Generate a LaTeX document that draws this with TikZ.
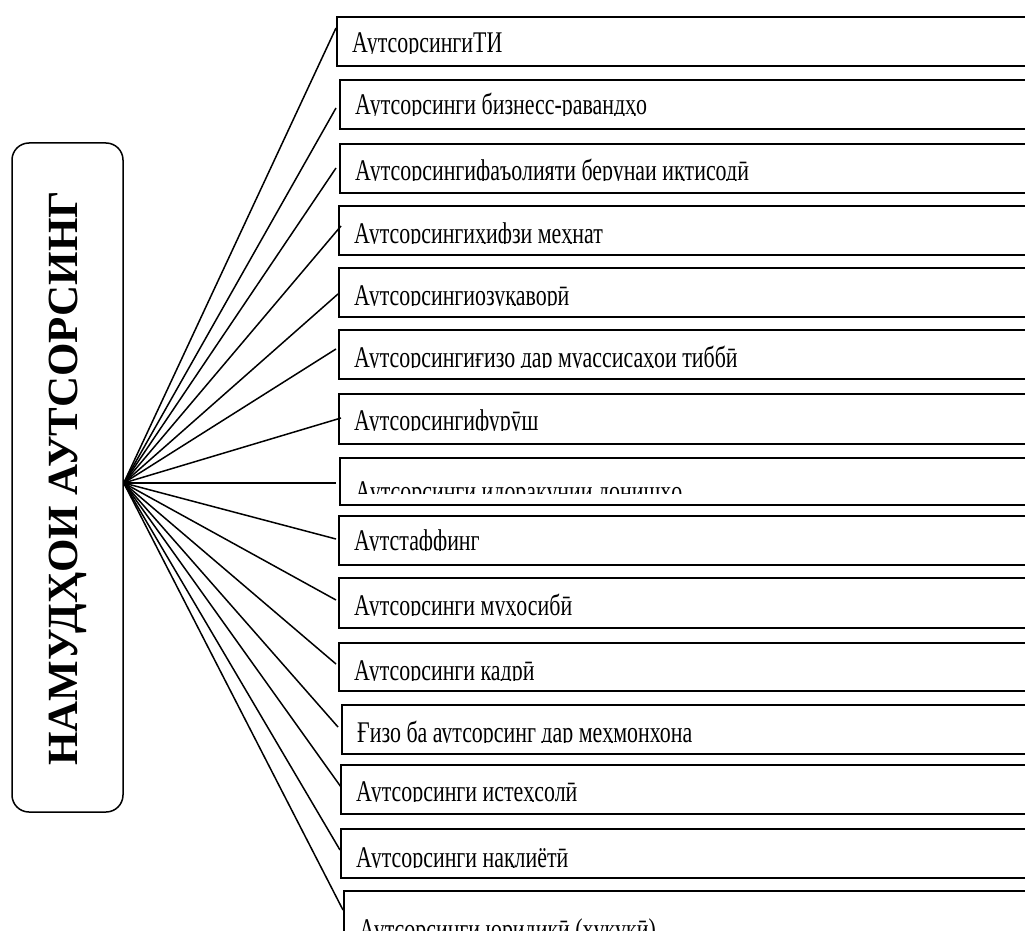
\documentclass[tikz,border=0pt]{standalone}
\usepackage{fontspec}
\setmainfont{Liberation Serif}
\newfontfamily\boxfont[FakeStretch=0.73]{Liberation Serif}
\begin{document}
\begin{tikzpicture}[x=1pt,y=-1pt,
  boxst/.style={draw, line width=1.6pt, inner sep=0pt, minimum width=720pt, minimum height=49pt, anchor=north west},
  txt/.style={inner sep=0pt, font=\boxfont\fontsize{30}{34}\selectfont},
  conn/.style={line width=1.5pt},
  mainbox/.style={draw, line width=1.5pt, rounded corners=17pt, inner sep=0pt, minimum width=111pt, minimum height=669pt},
  titlest/.style={inner sep=0pt, rotate=90, anchor=base, font=\fontsize{43}{50}\selectfont\bfseries}]
\useasboundingbox (0,0) rectangle (1025,931);
\clip (0,0) rectangle (1025,931);
\fill[white] (0,0) rectangle (1025,931);

\node[mainbox] (main) at (67.5,477.5) {};
\node[titlest] (title) at (77,478.5) {НАМУДҲОИ АУТСОРСИНГ};
\coordinate (hub) at ([yshift=-5.5pt]main.east);

\node[boxst] (b1) at (336,16) {};
\node[boxst] (b2) at (339,79) {};
\node[boxst] (b3) at (339,143) {};
\node[boxst] (b4) at (338,205) {};
\node[boxst] (b5) at (338,267) {};
\node[boxst] (b6) at (338,329) {};
\node[boxst, minimum height=50pt] (b7) at (338,393) {};
\node[boxst, minimum height=47pt] (b8) at (339,457) {};
\node[boxst] (b9) at (338,515) {};
\node[boxst, minimum height=50pt] (b10) at (338,577) {};
\node[boxst, minimum height=48pt] (b11) at (338,642) {};
\node[boxst] (b12) at (341,704) {};
\node[boxst] (b13) at (340,764) {};
\node[boxst] (b14) at (340,828) {};
\node[boxst, minimum height=70pt] (b15) at (343,890) {};

\newcommand\boxtext[5]{%
  \begin{scope}
    \clip ([yshift=2pt]#2.north west) rectangle ([yshift=-#4pt]#2.north east);
    \node[txt, anchor=base west] (#1) at ([xshift=16pt, yshift=-#3pt]#2.north west) {#5};
  \end{scope}}
\boxtext{t1}{b1}{37}{37.5}{АутсорсингиТИ}
\boxtext{t2}{b2}{36}{36.5}{Аутсорсинги бизнесс-равандҳо}
\boxtext{t3}{b3}{37}{37.5}{Аутсорсингифаъолияти берунаи иқтисодӣ}
\boxtext{t4}{b4}{38}{38.5}{Аутсорсингиҳифзи меҳнат}
\boxtext{t5}{b5}{38}{38.5}{Аутсорсингиозуқаворӣ}
\boxtext{t6}{b6}{38}{38.5}{Аутсорсингиғизо дар муассисаҳои тиббӣ}
\boxtext{t7}{b7}{37}{37.5}{Аутсорсингифурӯш}
\boxtext{t8}{b8}{44}{36}{Аутсорсинги идоракунии донишҳо}
\boxtext{t9}{b9}{35}{35.5}{Аутстаффинг}
\boxtext{t10}{b10}{38}{38.5}{Аутсорсинги муҳосибӣ}
\boxtext{t11}{b11}{38}{38.5}{Аутсорсинги кадрӣ}
\boxtext{t12}{b12}{38}{38.5}{Ғизо ба аутсорсинг дар меҳмонхона}
\boxtext{t13}{b13}{37}{37.5}{Аутсорсинги истеҳсолӣ}
\boxtext{t14}{b14}{39}{39.5}{Аутсорсинги нақлиётӣ}
\boxtext{t15}{b15}{49}{49.5}{Аутсорсинги юридикӣ (ҳуқуқӣ)}

\draw[conn] (hub) -- (b1.west |- 0,28);
\draw[conn] (hub) -- ([xshift=-3pt]b2.west |- 0,108);
\draw[conn] (hub) -- ([xshift=-3pt]b3.west |- 0,168);
\draw[conn] (hub) -- ([xshift=3pt]b4.west |- 0,226);
\draw[conn] (hub) -- (b5.west |- 0,294);
\draw[conn] (hub) -- ([xshift=-2pt]b6.west |- 0,349);
\draw[conn] (hub) -- ([xshift=3pt]b7.west |- 0,418);
\draw[conn] (hub) -- ([xshift=-3pt]b8.west |- 0,483);
\draw[conn] (hub) -- ([xshift=-2pt]b9.west |- 0,539);
\draw[conn] (hub) -- ([xshift=-2pt]b10.west |- 0,600);
\draw[conn] (hub) -- ([xshift=-2pt]b11.west |- 0,664);
\draw[conn] (hub) -- ([xshift=-3pt]b12.west |- 0,727);
\draw[conn] (hub) -- ([xshift=1pt]b13.west |- 0,787);
\draw[conn] (hub) -- (b14.west |- 0,850);
\draw[conn] (hub) -- (b15.west |- 0,910);
\end{tikzpicture}
\end{document}
